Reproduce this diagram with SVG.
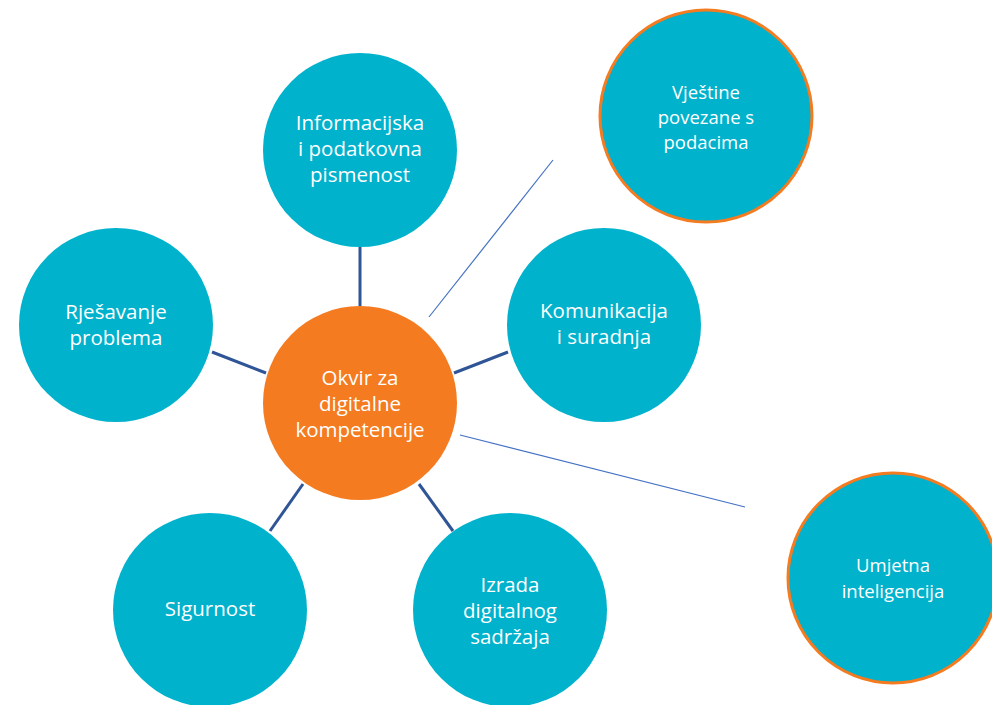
<svg xmlns="http://www.w3.org/2000/svg" width="992" height="705" viewBox="0 0 992 705">
<style>
.n{fill:#00B2CC}
.o{fill:#F47B20}
.ring{stroke:#F47B20;stroke-width:3}
.t{fill:#fff;font-family:"Open Sans","Noto Sans",sans-serif;font-size:20.5px;text-anchor:middle}
.s{font-size:18.5px}
.thick{stroke:#2F5597;stroke-width:3;fill:none}
.thin{stroke:#4472C4;stroke-width:1.2;fill:none}
</style>
<rect width="992" height="705" fill="#fff"/>
<g id="connectors">
<line class="thick" x1="360" y1="247" x2="360" y2="306"/>
<line class="thick" x1="212" y1="352" x2="266" y2="373"/>
<line class="thick" x1="508" y1="352" x2="454" y2="373"/>
<line class="thick" x1="270" y1="531" x2="303" y2="484"/>
<line class="thick" x1="453" y1="531" x2="419" y2="484"/>
<line class="thin" x1="429" y1="317" x2="553" y2="160"/>
<line class="thin" x1="460" y1="435" x2="745" y2="507"/>
</g>
<g id="informacijska">
<circle class="n" cx="360" cy="150" r="97"/>
<text class="t" x="360" y="130">Informacijska</text>
<text class="t" x="360" y="156">i podatkovna</text>
<text class="t" x="360" y="182">pismenost</text>
</g>
<g id="rjesavanje">
<circle class="n" cx="116" cy="325" r="97"/>
<text class="t" x="116" y="319">Rješavanje</text>
<text class="t" x="116" y="345">problema</text>
</g>
<g id="komunikacija">
<circle class="n" cx="604" cy="325" r="97"/>
<text class="t" x="604" y="318">Komunikacija</text>
<text class="t" x="604" y="344">i suradnja</text>
</g>
<g id="okvir">
<circle class="o" cx="360" cy="403" r="97"/>
<text class="t" x="360" y="385">Okvir za</text>
<text class="t" x="360" y="411">digitalne</text>
<text class="t" x="360" y="437">kompetencije</text>
</g>
<g id="sigurnost">
<circle class="n" cx="210" cy="610" r="97"/>
<text class="t" x="210" y="616">Sigurnost</text>
</g>
<g id="izrada">
<circle class="n" cx="510" cy="610" r="97"/>
<text class="t" x="510" y="592">Izrada</text>
<text class="t" x="510" y="618">digitalnog</text>
<text class="t" x="510" y="644">sadržaja</text>
</g>
<g id="vjestine">
<circle class="n ring" cx="706" cy="116" r="106"/>
<text class="t s" x="706" y="99">Vještine</text>
<text class="t s" x="706" y="124">povezane s</text>
<text class="t s" x="706" y="149">podacima</text>
</g>
<g id="umjetna">
<circle class="n ring" cx="893" cy="578" r="105"/>
<text class="t s" x="893" y="572">Umjetna</text>
<text class="t s" x="893" y="598">inteligencija</text>
</g>
</svg>
